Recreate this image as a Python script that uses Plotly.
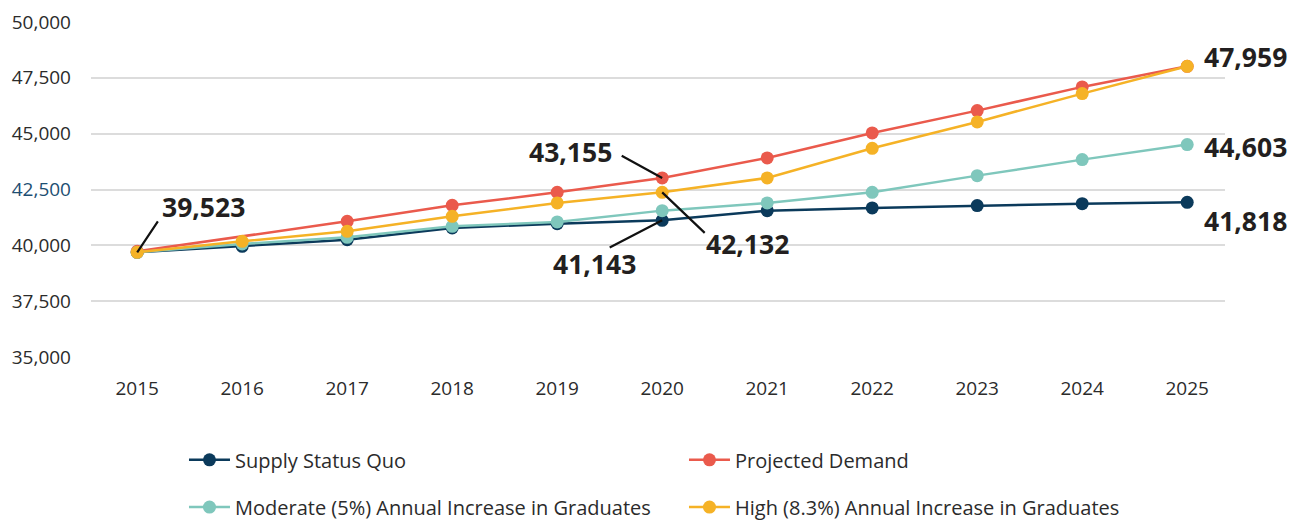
import plotly.graph_objects as go

years = [2015, 2016, 2017, 2018, 2019, 2020, 2021, 2022, 2023, 2024, 2025]
supply_status_quo = [39687, 39955, 40255, 40779, 40972, 41120, 41554, 41675, 41778, 41867, 41926]
projected_demand = [39730, None, 41075, 41791, 42373, 43018, 43914, 45033, 46032, 47094, 48016]
moderate_increase = [39687, 40063, 40358, 40851, 41048, 41554, 41899, 42373, 43121, 43838, 44510]
high_increase = [39687, 40179, 40627, 41299, 41899, 42373, 43018, 44344, 45526, 46794, 48016]

series_names = ["Supply Status Quo", "Projected Demand",
                "Moderate (5%) Annual Increase in Graduates",
                "High (8.3%) Annual Increase in Graduates"]
series_values = [supply_status_quo, projected_demand, moderate_increase, high_increase]
series_colors = ["#0b3a5b", "#ea5a4c", "#7fc7bc", "#f5b226"]
series_legends = ["legend", "legend", "legend2", "legend2"]

y_tick_vals = [35000, 37500, 40000, 42500, 45000, 47500, 50000]
y_tick_text = ["35,000", "37,500", "40,000",
               "<span style='color:#1d4e72'>42,500</span>",
               "45,000", "47,500", "50,000"]

callout_texts = ["39,523", "43,155", "42,132", "41,143", "47,959", "44,603", "41,818"]

FONT = "Open Sans"
TEXT_COLOR = "#2b2b2b"

fig = go.Figure()
for name, vals, col, lg in zip(series_names, series_values, series_colors, series_legends):
    fig.add_trace(go.Scatter(
        x=years, y=vals, name=name, mode="lines+markers",
        connectgaps=True, legend=lg,
        line=dict(color=col, width=2.5),
        marker=dict(color=col, size=13),
        cliponaxis=False,
    ))

def pt(si, yi):
    return years[yi], series_values[si][yi]

annotations = []
leaders = [
    (3, 0, 22, -33),
    (1, 5, -42, -23),
    (3, 5, 44, 42),
    (0, 5, -54, 28),
]
for si, yi, ax, ay in leaders:
    x, y = pt(si, yi)
    annotations.append(dict(
        x=x, y=y, xref="x", yref="y", text=" ", font=dict(size=1),
        showarrow=True, arrowhead=0, arrowwidth=2.2, arrowcolor="#111111",
        ax=ax, ay=ay, standoff=0, startstandoff=0,
    ))

labels = [
    (callout_texts[0], 3, 0, "left", 23, 45),
    (callout_texts[1], 1, 5, "right", -48, 26),
    (callout_texts[2], 3, 5, "left", 42, -52),
    (callout_texts[3], 0, 5, "center", -68, -44),
    (callout_texts[4], 3, 10, "left", 15, 9),
    (callout_texts[5], 2, 10, "left", 15, -2),
    (callout_texts[6], 0, 10, "left", 15, -19),
]
for txt, si, yi, xa, xs, ys in labels:
    x, y = pt(si, yi)
    annotations.append(dict(
        x=x, y=y, xref="x", yref="y", text="<b>" + txt + "</b>",
        showarrow=False, xanchor=xa, yanchor="middle", xshift=xs, yshift=ys,
        font=dict(family=FONT, size=26.5, color="#231f20"),
    ))

legend_common = dict(orientation="h", x=0.082, xanchor="left",
                     entrywidth=444, entrywidthmode="pixels", itemwidth=41,
                     font=dict(family=FONT, size=20, color=TEXT_COLOR),
                     bgcolor="rgba(0,0,0,0)", borderwidth=0)

# page body has an 8px margin, so the figure is sized/offset to fill the 1299x522 window
fig.update_layout(
    width=1291, height=514,
    margin=dict(l=83, r=74, t=14, b=165, autoexpand=False),
    paper_bgcolor="white", plot_bgcolor="white",
    font=dict(family=FONT, size=19, color=TEXT_COLOR),
    showlegend=True,
    legend=dict(y=-0.307, yanchor="middle", **legend_common),
    legend2=dict(y=-0.448, yanchor="middle", **legend_common),
    annotations=annotations,
    xaxis=dict(range=[2014.56, 2025.36], tickvals=years, ticktext=[str(y) for y in years],
               showgrid=False, zeroline=False, showline=False, automargin=False,
               ticks="", ticklabelstandoff=18,
               tickfont=dict(family=FONT, size=19, color=TEXT_COLOR)),
    yaxis=dict(range=[35000, 50000], tickvals=y_tick_vals, ticktext=y_tick_text,
               showgrid=True, gridcolor="#dcdcdc", gridwidth=1.5, automargin=False,
               zeroline=False, showline=False, ticks="", ticklabelstandoff=19,
               tickfont=dict(family=FONT, size=19, color=TEXT_COLOR)),
)

fig.write_html("out.html")
